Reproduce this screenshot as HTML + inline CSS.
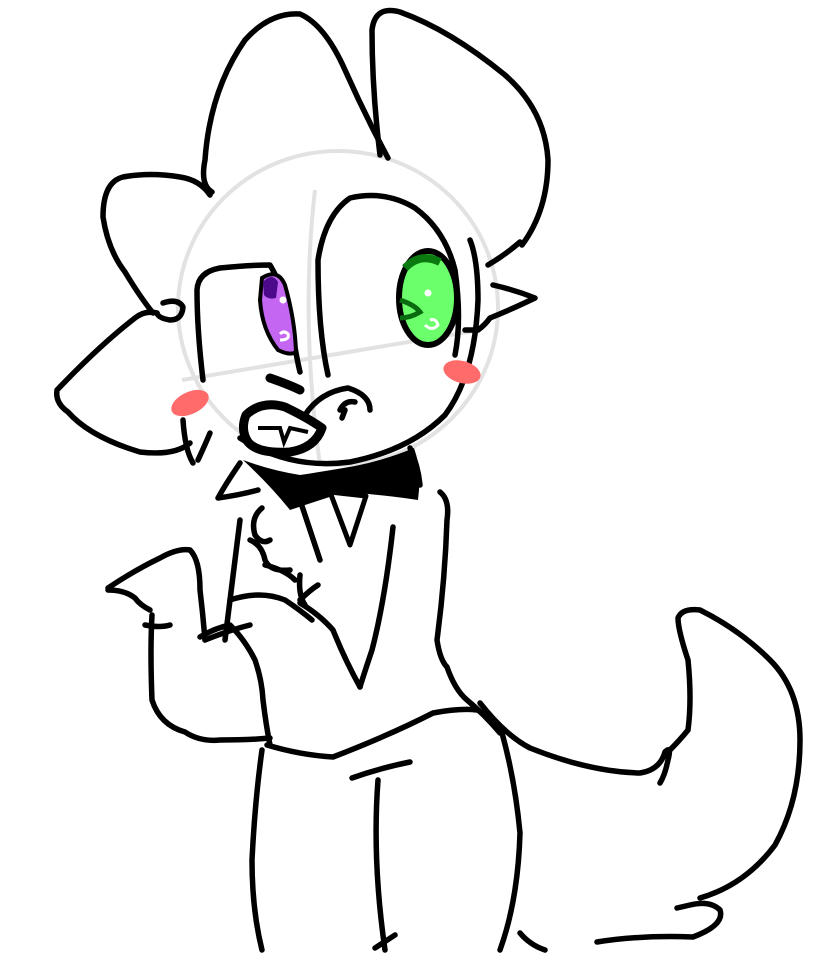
<!DOCTYPE html>
<html><head><meta charset="utf-8"><style>
html,body{margin:0;padding:0;background:#fff;}
svg{display:block}
</style></head><body>
<svg width="834" height="954" viewBox="0 0 834 954" xmlns="http://www.w3.org/2000/svg">
<g fill="none" stroke="#e2e2e2" stroke-width="4">
<ellipse cx="338" cy="308" rx="160" ry="157"/>
<path d="M182 380 Q330 355 480 330"/>
<path d="M315 190 Q300 320 320 465"/>
</g>
<g fill="none" stroke="#000" stroke-width="5.5" stroke-linecap="round" stroke-linejoin="round">
<path d="M212 192 Q200 185 205 160 Q210 90 245 40 Q270 12 300 14 Q325 25 345 70 Q365 115 388 158"/>
<path d="M380 155 Q372 90 372 30 Q375 5 400 12 Q450 30 505 75 Q545 110 548 160 Q548 210 522 245"/>
<path d="M210 195 Q200 180 180 177 Q150 172 123 177 Q103 182 103 217 Q108 250 125 272 Q140 297 153 313"/>
<path d="M163 303 Q178 298 183 307 Q182 320 170 320 Q158 318 157 313"/>
<path d="M157 313 Q145 310 135 318 Q100 345 57 390 Q55 403 68 412 Q90 437 140 452 Q175 456 190 443"/>
<path d="M193 463 Q185 450 183 420"/>
<path d="M198 460 Q205 445 210 433"/>
<path d="M240 438 Q290 470 350 462 Q410 450 445 415 Q475 375 478 300 Q478 260 470 240"/>
<path d="M488 265 Q505 255 520 242"/>
<path d="M493 285 Q515 290 535 298 Q510 310 490 318 Q485 325 478 330"/>
<path d="M203 380 Q197 330 197 290 Q198 272 220 268 Q250 265 270 265 Q285 290 292 330 Q297 360 300 372"/>
<path d="M328 375 Q318 330 318 260 Q325 215 350 198 Q385 190 415 208 Q445 230 455 270 Q462 320 455 355"/>
<path d="M465 330 L477 330"/>
<path d="M270 378 Q290 385 300 390" stroke-width="9"/>
<path d="M305 415 Q320 392 348 388 Q370 395 370 410"/>
<path d="M340 410 Q345 400 355 402 M345 410 L342 418"/>
<path d="M240 463 Q225 485 218 498 Q240 495 258 490"/>
<path d="M410 448 Q418 465 420 485"/>
<path d="M262 508 Q250 518 255 535 Q262 545 270 540 M250 540 Q262 545 265 560 Q270 572 290 570 M265 565 Q285 570 295 580 M300 575 Q298 595 305 605 M300 600 Q310 590 318 585"/>
<path d="M240 520 L225 640"/>
<path d="M300 500 Q310 530 320 560"/>
<path d="M393 527 Q385 600 372 650 Q362 680 360 687"/>
<path d="M360 687 Q345 660 333 630 Q320 615 300 603"/>
<path d="M447 520 Q450 500 440 492 M447 520 Q445 580 437 640 Q440 660 447 667 Q455 690 467 700 Q485 715 500 733"/>
<path d="M108 588 Q135 570 160 558 Q178 548 190 550 Q200 560 200 590 Q203 615 205 640"/>
<path d="M108 590 Q125 590 135 598 Q140 605 150 610 M145 625 Q160 628 170 625"/>
<path d="M152 615 Q150 650 152 700 Q160 725 185 732 Q200 742 220 740 Q250 740 270 738"/>
<path d="M200 637 Q215 628 230 625 Q245 640 255 660 Q262 680 263 700 Q266 725 270 745"/>
<path d="M205 640 Q230 630 250 625"/>
<path d="M230 600 Q260 590 285 600 Q300 610 312 620"/>
<path d="M267 745 Q300 755 333 757 Q390 735 433 713 Q460 708 477 710"/>
<path d="M262 750 Q255 800 252 860 Q252 910 262 950"/>
<path d="M352 778 Q380 768 410 762"/>
<path d="M378 780 Q372 860 385 950"/>
<path d="M502 733 Q515 780 520 833 Q518 900 500 950"/>
<path d="M520 933 Q530 945 545 950"/>
<path d="M375 948 L395 935"/>
<path d="M597 942 Q640 935 693 937 Q725 925 720 910 Q710 900 690 905 L677 908"/>
<path d="M480 703 Q505 735 530 748 Q590 772 640 773 Q660 770 665 752 Q672 745 668 760 Q665 775 660 783"/>
<path d="M668 752 Q680 740 688 730 Q692 700 688 660 Q678 630 678 618 Q682 608 700 610 Q740 630 770 660 Q800 690 800 740 Q800 800 775 845 Q745 885 700 898"/>
</g>
<path d="M243 460 Q270 485 290 510 Q320 500 345 492 Q385 495 418 500 Q422 470 414 448 Q385 460 355 466 Q320 472 300 475 Q270 470 243 460 Z" fill="#000"/>
<path d="M330 492 L350 545 L366 496 Z" fill="#fff" stroke="#000" stroke-width="5" stroke-linejoin="round"/>
<path d="M246 415 Q262 400 285 407 Q308 418 322 428 Q315 448 290 452 Q258 454 248 442 Q240 430 246 415 Z" fill="#fff" stroke="#000" stroke-width="9" stroke-linejoin="round"/>
<path d="M258 428 L280 428 L284 442 L290 428 L308 432" fill="none" stroke="#000" stroke-width="4"/>
<path d="M262 278 Q278 268 285 285 Q295 320 296 352 Q290 356 278 350 Q262 330 260 300 Z" fill="#c466f2" stroke="#000" stroke-width="4"/>
<path d="M263 282 Q272 272 278 282 L276 298 Q268 300 264 295 Z" fill="#4a0a8a"/>
<circle cx="283" cy="300" r="3.5" fill="#fff"/>
<path d="M280 340 Q290 340 288 334 Q284 330 280 334" fill="none" stroke="#fff" stroke-width="3"/>
<ellipse cx="428" cy="298" rx="29" ry="47" fill="#6cff6c" stroke="#000" stroke-width="6"/>
<path d="M405 268 Q420 252 440 262" fill="none" stroke="#0a7a10" stroke-width="8"/>
<circle cx="428" cy="293" r="3.5" fill="#fff"/>
<path d="M400 300 Q415 305 420 312 Q410 318 400 318" fill="none" stroke="#0a6a10" stroke-width="5"/>
<path d="M425 325 Q432 332 438 325 Q436 318 430 320" fill="none" stroke="#fff" stroke-width="3"/>
<ellipse cx="190" cy="403" rx="20" ry="11" fill="#ff6a6a" transform="rotate(-25 190 403)"/>
<ellipse cx="462" cy="372" rx="19" ry="11" fill="#ff6a6a" transform="rotate(15 462 372)"/>
</svg>
</body></html>
